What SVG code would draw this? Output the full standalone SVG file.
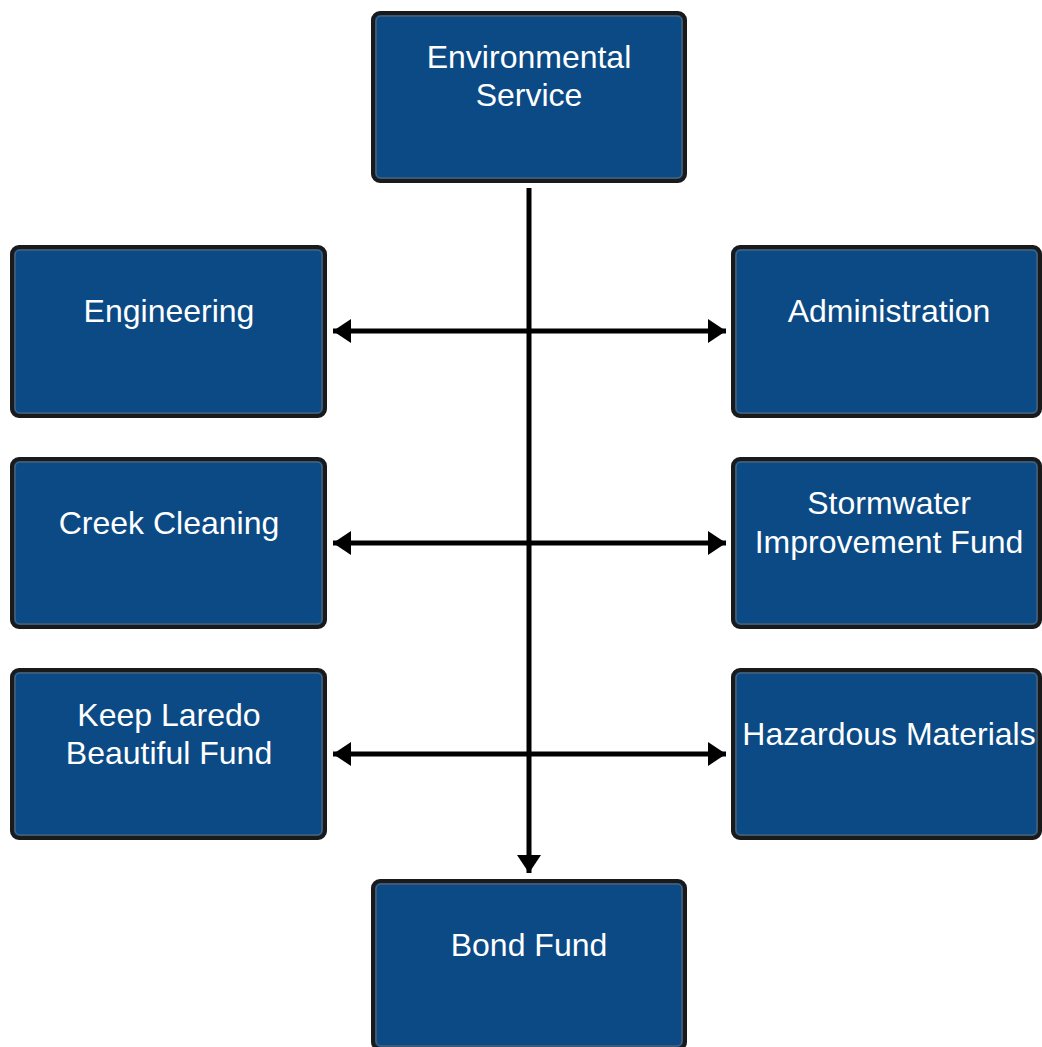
<svg xmlns="http://www.w3.org/2000/svg" width="1042" height="1047" viewBox="0 0 1042 1047">
<style>
.box{fill:#0b4a85;stroke:#1a1a1a;stroke-width:4}
.inner{fill:none;stroke:#6a6a6a;stroke-width:1}
.lbl{font-family:"Liberation Sans",Arial,sans-serif;font-size:32px;fill:#ffffff;text-anchor:middle}
.conn{stroke:#000;stroke-width:5;fill:none}
</style>
<defs>
<marker id="ah" markerUnits="userSpaceOnUse" markerWidth="20" markerHeight="26" refX="18" refY="12" orient="auto-start-reverse">
<path d="M0,0 L18,12 L0,24 Z" fill="#000"/>
</marker>
</defs>
<rect width="1042" height="1047" fill="#fff"/>
<g id="connectors">
<line class="conn" x1="529" y1="188" x2="529" y2="873" marker-end="url(#ah)"/>
<line class="conn" x1="333" y1="331" x2="726" y2="331" marker-start="url(#ah)" marker-end="url(#ah)"/>
<line class="conn" x1="333" y1="543" x2="726" y2="543" marker-start="url(#ah)" marker-end="url(#ah)"/>
<line class="conn" x1="333" y1="754" x2="726" y2="754" marker-start="url(#ah)" marker-end="url(#ah)"/>
</g>
<g id="environmental-service">
<rect class="box" x="373" y="13" width="312" height="168" rx="7"/>
<rect class="inner" x="376" y="16" width="306" height="162" rx="5"/>
<text class="lbl" x="529" y="68">Environmental</text>
<text class="lbl" x="529" y="106">Service</text>
</g>
<g id="engineering">
<rect class="box" x="12" y="247" width="313" height="169" rx="7"/>
<rect class="inner" x="15" y="250" width="307" height="163" rx="5"/>
<text class="lbl" x="169" y="322">Engineering</text>
</g>
<g id="administration">
<rect class="box" x="733" y="247" width="307" height="169" rx="7"/>
<rect class="inner" x="736" y="250" width="301" height="163" rx="5"/>
<text class="lbl" x="889" y="322">Administration</text>
</g>
<g id="creek-cleaning">
<rect class="box" x="12" y="459" width="313" height="168" rx="7"/>
<rect class="inner" x="15" y="462" width="307" height="162" rx="5"/>
<text class="lbl" x="169" y="534">Creek Cleaning</text>
</g>
<g id="stormwater-improvement-fund">
<rect class="box" x="733" y="459" width="307" height="168" rx="7"/>
<rect class="inner" x="736" y="462" width="301" height="162" rx="5"/>
<text class="lbl" x="889" y="514">Stormwater</text>
<text class="lbl" x="889" y="553">Improvement Fund</text>
</g>
<g id="keep-laredo-beautiful-fund">
<rect class="box" x="12" y="670" width="313" height="168" rx="7"/>
<rect class="inner" x="15" y="673" width="307" height="162" rx="5"/>
<text class="lbl" x="169" y="726">Keep Laredo</text>
<text class="lbl" x="169" y="764">Beautiful Fund</text>
</g>
<g id="hazardous-materials">
<rect class="box" x="733" y="670" width="307" height="168" rx="7"/>
<rect class="inner" x="736" y="673" width="301" height="162" rx="5"/>
<text class="lbl" x="889" y="745">Hazardous Materials</text>
</g>
<g id="bond-fund">
<rect class="box" x="373" y="881" width="312" height="168" rx="7"/>
<rect class="inner" x="376" y="884" width="306" height="162" rx="5"/>
<text class="lbl" x="529" y="956">Bond Fund</text>
</g>
</svg>
